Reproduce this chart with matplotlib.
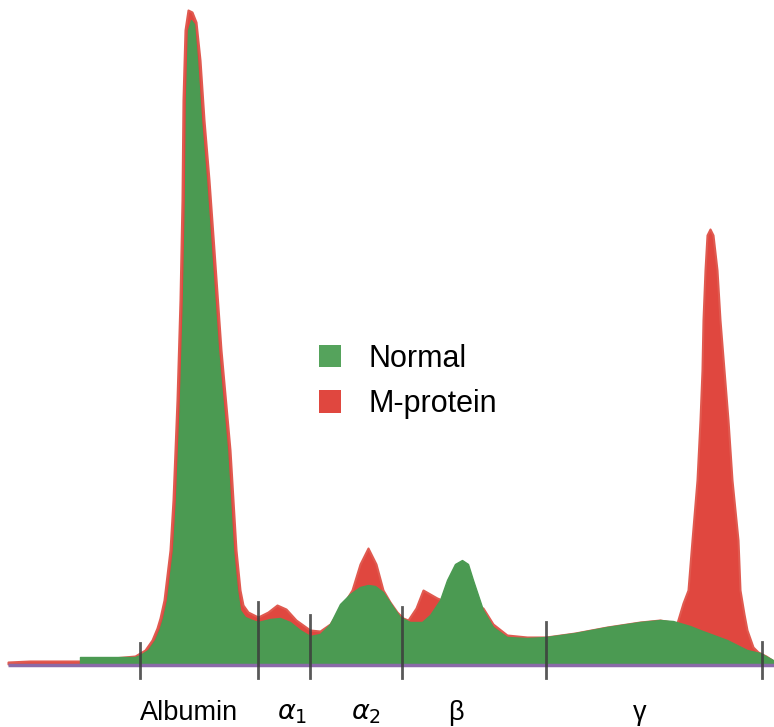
import matplotlib
matplotlib.use("Agg")
import matplotlib.pyplot as plt
from matplotlib.patches import Patch

plt.rcParams['font.family'] = ['Liberation Sans', 'DejaVu Sans']

# mobility positions (px along the gel) and density (height above baseline)
normal_x = [80, 135, 140, 148, 155, 160, 163, 167, 170, 173, 176, 180, 183, 185, 186,
            188, 191, 194, 197, 201, 206, 211, 218, 227, 233, 237, 240, 245, 252, 258,
            270, 280, 290, 300, 310, 320, 330, 340, 350, 360, 368, 375, 383, 393, 400,
            410, 422, 430, 440, 447, 455, 462, 468, 473, 483, 493, 507, 527, 546, 575,
            607, 640, 660, 673, 690, 700, 727, 747, 760, 773]
normal_y = [7, 7, 9, 14, 24, 36, 46, 64, 89, 114, 164, 264, 364, 464, 564,
            634, 644, 640, 604, 544, 484, 414, 314, 214, 114, 74, 54, 47, 44, 42,
            45, 46, 42, 34, 28, 30, 40, 60, 70, 77, 79, 78, 72, 57, 47,
            42, 42, 49, 64, 84, 100, 104, 100, 84, 54, 37, 27, 26, 27, 31,
            37, 42, 44, 43, 38, 34, 24, 14, 11, 4]

mprot_x = [8, 30, 80, 135, 145, 152, 157, 160, 164, 167, 170, 173, 177, 180, 182,
           183, 185, 188, 192, 196, 200, 204, 209, 214, 221, 230, 236, 240, 243, 248,
           258, 268, 277, 286, 296, 310, 320, 330, 342, 352, 360, 368, 376, 383, 390,
           397, 403, 408, 416, 423, 430, 437, 442, 462, 472, 483, 493, 507, 527, 546,
           575, 607, 640, 660, 677, 683, 688, 692, 697, 700, 702, 703, 705, 707, 710,
           713, 717, 720, 724, 728, 732, 738, 740, 744, 747, 753, 758, 766, 772]
mprot_y = [2, 3, 3, 8, 14, 24, 36, 46, 64, 89, 114, 164, 264, 364, 464,
           564, 634, 654, 652, 642, 604, 544, 484, 414, 314, 214, 114, 74, 59, 52,
           47, 52, 59, 55, 44, 34, 33, 40, 58, 74, 100, 116, 100, 74, 62,
           52, 46, 44, 56, 74, 70, 66, 64, 64, 60, 56, 40, 29, 27, 27,
           31, 37, 42, 44, 41, 61, 74, 124, 184, 244, 294, 344, 394, 429, 435,
           429, 394, 344, 294, 244, 184, 124, 74, 50, 34, 17, 12, 8, 4]

boundaries = [140, 258, 310, 402, 546, 762]
tick_tops = [21, 62, 49, 57, 42, 22]

fraction_labels = ['Albumin', r'$\alpha_1$', r'$\alpha_2$', 'β', 'γ']
label_x = [189, 292, 366, 456, 640]

green = '#4b9a52'
red = '#e0473f'

fig = plt.figure(figsize=(7.74, 7.27), dpi=100)
ax = fig.add_axes([0, 0, 1, 1])

ax.fill_between(mprot_x, 0, mprot_y, color=red, linewidth=1.5, edgecolor='#e05a50')
ax.fill_between(normal_x, 0, normal_y, color=green, linewidth=1, edgecolor='#4b9a52')

# baseline
ax.plot([8, 774], [-1, -1], color='#8a6aa8', linewidth=2.5, solid_capstyle='butt')

# fraction boundaries
for bx, top in zip(boundaries, tick_tops):
    ax.plot([bx, bx], [-14, top], color='#3c3c3c', linewidth=2, alpha=0.85)

for lx, lab in zip(label_x, fraction_labels):
    ax.text(lx, -49, lab, ha='center', va='center', fontsize=19.5, color='black')

handles = [Patch(facecolor='#55a35c', edgecolor='none', label='Normal'),
           Patch(facecolor=red, edgecolor='none', label='M-protein')]
ax.legend(handles=handles, loc='upper left', bbox_to_anchor=(0.376, 0.565),
          frameon=False, fontsize=22, handlelength=0.75, handleheight=0.75,
          handletextpad=0.9, labelspacing=0.5)

ax.set_xlim(0, 774)
ax.set_ylim(-63, 664)
ax.axis('off')

fig.savefig('out.png', dpi=100)
